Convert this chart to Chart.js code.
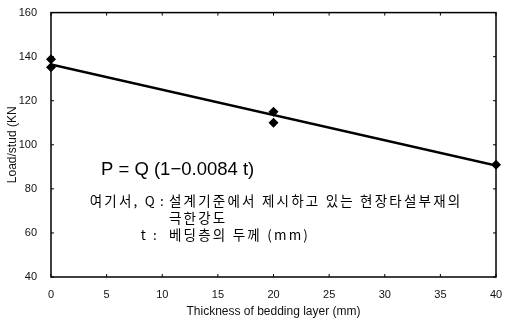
<!DOCTYPE html>
<html>
<head>
<meta charset="utf-8">
<script src="https://cdn.jsdelivr.net/npm/chart.js@4/dist/chart.umd.min.js"></script>
<style>
  html, body { margin: 0; padding: 0; background: #fff; }
  #wrap { width: 507px; height: 323px; }
</style>
</head>
<body>
<div id="wrap"><canvas id="loadChart" width="507" height="323"></canvas></div>
<script>
/* measured points (thickness mm, load kN) */
const thickness = [0, 0, 20, 20, 40];
const load = [138.8, 135.2, 115, 110, 91];

/* regression line P = Q (1 - 0.0084 t) */
const fitX = [0, 40];
const fitY = [136.5, 90.6];

const xTicks = [0, 5, 10, 15, 20, 25, 30, 35, 40];
const yTicks = [40, 60, 80, 100, 120, 140, 160];

const formula = 'P = Q (1\u22120.0084 t)';
const noteLines = [
  ['여기서, Q', ':', '설계기준에서 제시하고 있는 현장타설부재의'],
  ['', '', '극한강도'],
  ['t', ':', '베딩층의 두께 (mm)']
];

const TICK_FONT = { family: 'Liberation Sans', size: 11 };

/* box frame, inward tick marks and the annotation text */
const framePlugin = {
  id: 'frame',
  afterDraw(chart) {
    const { ctx, chartArea: a, scales } = chart;
    ctx.save();
    ctx.strokeStyle = '#000';
    ctx.lineWidth = 1.5;
    ctx.strokeRect(a.left, a.top, a.right - a.left, a.bottom - a.top);

    ctx.lineWidth = 1;
    ctx.beginPath();
    yTicks.forEach(v => {
      const y = scales.y.getPixelForValue(v);
      ctx.moveTo(a.left, y); ctx.lineTo(a.left + 3, y);
      ctx.moveTo(a.right, y); ctx.lineTo(a.right - 3, y);
    });
    xTicks.forEach(v => {
      const x = scales.x.getPixelForValue(v);
      ctx.moveTo(x, a.bottom); ctx.lineTo(x, a.bottom - 3);
      ctx.moveTo(x, a.top); ctx.lineTo(x, a.top + 3);
    });
    ctx.stroke();

    ctx.fillStyle = '#000';
    ctx.textBaseline = 'middle';
    ctx.font = '18.5px "Liberation Sans", Arial, sans-serif';
    ctx.fillText(formula, a.left + 50, 170);

    ctx.font = '13.5px "Noto Sans CJK KR", sans-serif';
    ctx.letterSpacing = '2.2px';
    const rowY = [201, 218, 235];
    const headRight = [a.left + 106, 0, a.left + 97];
    const colonX = [a.left + 109, 0, a.left + 102];
    noteLines.forEach((row, i) => {
      if (row[0]) {
        ctx.textAlign = 'right';
        ctx.fillText(row[0], headRight[i], rowY[i]);
      }
      ctx.textAlign = 'left';
      if (row[1]) ctx.fillText(row[1], colonX[i], rowY[i]);
      ctx.fillText(row[2], a.left + 118, rowY[i]);
    });
    ctx.restore();
  }
};

new Chart(document.getElementById('loadChart'), {
  type: 'scatter',
  data: {
    datasets: [
      {
        type: 'line',
        label: 'fit',
        data: fitX.map((x, i) => ({ x, y: fitY[i] })),
        borderColor: '#000',
        borderWidth: 2.5,
        pointRadius: 0,
        fill: false,
        tension: 0
      },
      {
        label: 'test',
        data: thickness.map((x, i) => ({ x, y: load[i] })),
        pointStyle: 'rectRot',
        pointRadius: 5,
        backgroundColor: '#000',
        borderColor: '#000',
        borderWidth: 0,
        clip: false
      }
    ]
  },
  plugins: [framePlugin],
  options: {
    responsive: false,
    animation: false,
    devicePixelRatio: 1,
    layout: { padding: { top: 9, right: 11, left: 0, bottom: 0 } },
    plugins: {
      legend: { display: false },
      tooltip: { enabled: false }
    },
    scales: {
      x: {
        type: 'linear',
        min: 0,
        max: 40,
        afterFit(scale) { scale.height = 46; },
        afterBuildTicks(scale) { scale.ticks = xTicks.map(v => ({ value: v })); },
        grid: { display: false },
        border: { display: false },
        ticks: { color: '#111', font: TICK_FONT, padding: 3, maxRotation: 0 },
        title: {
          display: true,
          text: 'Thickness of bedding layer (mm)',
          color: '#111',
          font: { family: 'Liberation Sans', size: 12 },
          padding: { top: 0, bottom: 4 }
        }
      },
      y: {
        min: 40,
        max: 160,
        afterFit(scale) { scale.width = 51; },
        afterBuildTicks(scale) { scale.ticks = yTicks.map(v => ({ value: v })); },
        grid: { display: false },
        border: { display: false },
        ticks: { color: '#111', font: TICK_FONT, padding: 6 },
        title: {
          display: true,
          text: 'Load/stud (KN',
          color: '#111',
          font: { family: 'Liberation Sans', size: 12 },
          padding: { top: 5, bottom: 0 }
        }
      }
    }
  }
});
</script>
</body>
</html>
